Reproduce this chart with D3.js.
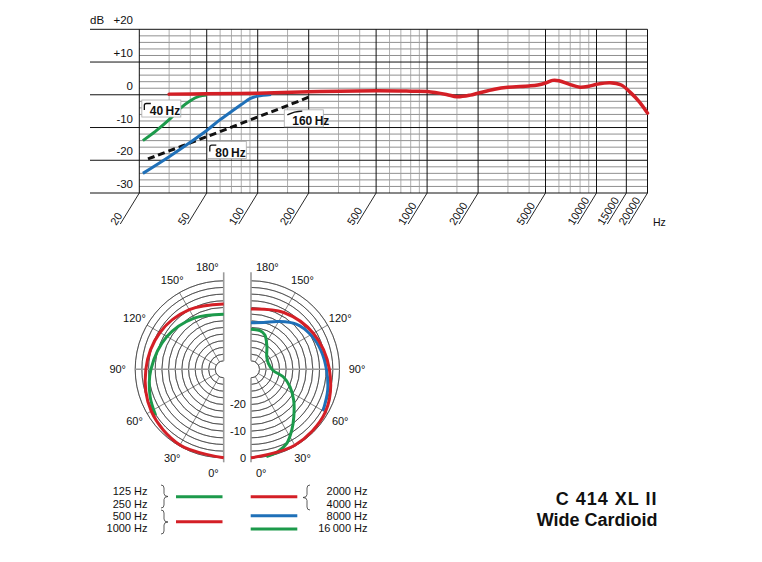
<!DOCTYPE html>
<html>
<head>
<meta charset="utf-8">
<script src="https://cdn.jsdelivr.net/npm/d3@7"></script>
<style>
  body { margin: 0; background: #fff; }
  text { font-family: "Liberation Sans", Arial, Helvetica, sans-serif; fill: #111; }
</style>
</head>
<body>
<script>
// ---- frequency response data ----
var freqTicks = [20, 50, 100, 200, 500, 1000, 2000, 5000, 10000, 15000, 20000];
var freqMinor = [30, 40, 60, 70, 80, 90, 150, 300, 400, 600, 700, 800, 900, 1500, 3000, 4000, 6000, 7000, 8000, 9000];
var dbTicks = [20, 10, 0, -10, -20, -30];
var dbTickLabels = ["+20", "+10", "0", "-10", "-20", "-30"];

// main response (red), [Hz, dB]
var responseMain = [[30, 0.2], [50, 0.3], [100, 0.5], [200, 0.9], [500, 1.2], [800, 1.1], [1000, 1.0],
  [1300, 0.1], [1500, -0.6], [1800, -0.1], [2000, 0.5], [2500, 1.7], [3000, 2.3], [4000, 2.7],
  [4500, 3.0], [5000, 3.6], [5500, 4.4], [6000, 4.3], [7000, 3.1], [8000, 2.3], [9000, 2.6],
  [10000, 3.2], [12000, 3.7], [14000, 3.0], [16000, 0.5], [18000, -2.3], [20000, -5.6]];
// bass cut filters
var cut40 = [[21, -14], [25, -11.1], [30, -7.6], [35, -4.1], [40, -1.8], [45, -0.5], [50, -0.1]];
var cut80 = [[21, -24], [30, -18.9], [40, -14.5], [50, -10.9], [60, -7.6], [70, -5.1], [80, -3.0], [90, -1.2], [100, -0.4], [120, 0.1]];
var cut160 = [[22.5, -19.6], [50, -12.8], [100, -6.8], [150, -3.3], [205, -0.5]];
var cutLabels = ["40\u2009Hz", "80\u2009Hz", "160\u2009Hz"];
var cutLabelAt = [[20.7, -1.6], [50.4, -14.3], [143.5, -4.6]];

// ---- polar data, [angle deg, dB] ----
var polarAngles = [0, 30, 60, 90, 120, 150, 180];
var polarRings = d3.range(-30, 0.1, 2.5);
var polarDbLabels = [0, -10, -20];
var left500 = [[0, 0], [30, -0.4], [60, -1.8], [90, -4], [120, -5.6], [150, -7.4], [180, -8.7]];
var left125 = [[56, -2.4], [70, -3.8], [90, -5.9], [120, -8.6], [150, -11], [180, -12.5]];
var right2000 = [[0, 0], [30, -0.3], [60, -1.0], [90, -3.8], [120, -6.2], [150, -8.6], [180, -10.6]];
var right8000 = [[60, -2], [75, -3.4], [90, -4.9], [105, -6], [120, -7.3], [135, -9.2], [150, -12.5], [165, -15], [180, -15.7]];
var right16000 = [[10, 0], [18, -0.7], [26, -2.4], [34, -5.8], [42, -9.2], [54, -13.4], [66, -17.2], [77, -20.8],
  [87, -24.9], [109, -26.3], [129, -25.6], [145, -22.8], [158, -19.3], [167, -18.3], [180, -18.2]];

var legendLeft = [["125 Hz", "250 Hz"], ["500 Hz", "1000 Hz"]];
var legendRight = ["2000 Hz", "4000 Hz", "8000 Hz", "16\u2009000 Hz"];

var RED = "#d41f26", GREEN = "#1c9a4b", BLUE = "#1f70b8";

var svg = d3.select("body").append("svg")
  .attr("width", 762).attr("height", 562);

// ================= frequency response =================
var x = d3.scaleLog().domain([20, 20000]).range([139.3, 647.5]);
var y = d3.scaleLinear().domain([-30, 20]).range([193, 29.3]);
var fr = svg.append("g");

// minor horizontal grid every 2 dB
fr.selectAll(".hminor").data(d3.range(-30, 20, 2).filter(function(d) { return d % 10 !== 0; }))
  .enter().append("line")
  .attr("x1", x(20)).attr("x2", x(20000))
  .attr("y1", function(d) { return y(d); }).attr("y2", function(d) { return y(d); })
  .attr("stroke", "#444").attr("stroke-width", 0.6);

fr.selectAll(".vminor").data(freqMinor).enter().append("line")
  .attr("x1", function(d) { return x(d); }).attr("x2", function(d) { return x(d); })
  .attr("y1", y(20)).attr("y2", y(-30))
  .attr("stroke", "#9a9a9a").attr("stroke-width", 0.8);

fr.selectAll(".hmajor").data(dbTicks).enter().append("line")
  .attr("x1", 90).attr("x2", x(20000))
  .attr("y1", function(d) { return y(d); }).attr("y2", function(d) { return y(d); })
  .attr("stroke", "#111").attr("stroke-width", 1);

fr.selectAll(".vmajor").data(freqTicks).enter().append("line")
  .attr("x1", function(d) { return x(d); }).attr("x2", function(d) { return x(d); })
  .attr("y1", y(20)).attr("y2", y(-30))
  .attr("stroke", "#111").attr("stroke-width", 1);

// slanted ticks + labels
fr.selectAll(".slash").data(freqTicks).enter().append("line")
  .attr("x1", function(d) { return x(d); }).attr("y1", y(-30))
  .attr("x2", function(d) { return x(d) - 19; }).attr("y2", y(-30) + 31)
  .attr("stroke", "#111").attr("stroke-width", 0.9);

fr.selectAll(".flabel").data(freqTicks).enter().append("text")
  .attr("transform", function(d) { return "translate(" + (x(d) - 23) + "," + (y(-30) + 33) + ") rotate(-58)"; })
  .attr("font-size", 11)
  .text(function(d) { return d; });

fr.append("text").attr("x", 653).attr("y", 226).attr("font-size", 10.5).text("Hz");

// dB labels
fr.selectAll(".dblabel").data(dbTicks).enter().append("text")
  .attr("x", 133).attr("y", function(d) { return y(d) - 5; })
  .attr("text-anchor", "end").attr("font-size", 11.5)
  .text(function(d, i) { return dbTickLabels[i]; });
fr.append("text").attr("x", 90).attr("y", y(20) - 5).attr("font-size", 11.5).text("dB");

var line = d3.line()
  .x(function(d) { return x(d[0]); })
  .y(function(d) { return y(d[1]); })
  .curve(d3.curveCatmullRom);

fr.append("path").datum(cut160).attr("d", line)
  .attr("fill", "none").attr("stroke", "#111").attr("stroke-width", 3)
  .attr("stroke-dasharray", "7,4");
fr.append("path").datum(cut40).attr("d", line)
  .attr("fill", "none").attr("stroke", GREEN).attr("stroke-width", 3);
fr.append("path").datum(cut80).attr("d", line)
  .attr("fill", "none").attr("stroke", BLUE).attr("stroke-width", 3);
fr.append("path").datum(responseMain).attr("d", line)
  .attr("fill", "none").attr("stroke", RED).attr("stroke-width", 3.5)
  .attr("stroke-linecap", "round");

// filter labels
var boxes = fr.selectAll(".cutbox").data(cutLabels).enter().append("g")
  .attr("transform", function(d, i) { return "translate(" + x(cutLabelAt[i][0]) + "," + y(cutLabelAt[i][1]) + ")"; });
boxes.append("rect")
  .attr("width", function(d) { return d.length > 6 ? 40 : 39; }).attr("height", 17)
  .attr("fill", "#fff").attr("stroke", "#aaa").attr("stroke-width", 0.8);
boxes.append("text")
  .attr("x", function(d) { return d.length > 6 ? 3 : 8; }).attr("y", 15)
  .attr("font-size", 12).attr("font-weight", "bold")
  .text(function(d) { return d; });
boxes.append("path")
  .attr("d", function(d, i) {
    return i < 2 ? "M2.5,10 L2.5,5.5 Q2.5,3.5 4.5,3.5 L9,3.5" : "M3,5 Q10,1.5 18,1.2";
  })
  .attr("fill", "none").attr("stroke", "#111").attr("stroke-width", 1.3);

// ================= polar diagram =================
var cy = 369.3;
var halves = [{ cx: 223.7, side: -1 }, { cx: 251, side: 1 }];
var r = d3.scaleLinear().domain([-30, 0]).range([8.5, 88.5]);

function ang(a, side) {
  // 0 deg at bottom, 180 at top
  var t = a * Math.PI / 180;
  return side > 0 ? Math.PI - t : Math.PI + t;
}

halves.forEach(function(h) {
  var g = svg.append("g").attr("transform", "translate(" + h.cx + "," + cy + ")");
  var start = h.side > 0 ? 0 : Math.PI, end = h.side > 0 ? Math.PI : 2 * Math.PI;
  var arc = d3.arc().startAngle(start).endAngle(end);
  g.selectAll(".ring").data(polarRings).enter().append("path")
    .attr("d", function(d) { return arc.innerRadius(r(d)).outerRadius(r(d))(); })
    .attr("fill", "none").attr("stroke", "#333").attr("stroke-width", 0.6);
  g.selectAll(".spoke").data(polarAngles.filter(function(a) { return a > 0 && a < 180; }))
    .enter().append("line")
    .attr("x1", function(a) { return h.side * r(-30) * Math.sin(a * Math.PI / 180); })
    .attr("y1", function(a) { return r(-30) * Math.cos(a * Math.PI / 180); })
    .attr("x2", function(a) { return h.side * r(0) * Math.sin(a * Math.PI / 180); })
    .attr("y2", function(a) { return r(0) * Math.cos(a * Math.PI / 180); })
    .attr("stroke", function(a) { return a === 90 ? "#9a9a9a" : "#333"; })
    .attr("stroke-width", function(a) { return a === 90 ? 1.6 : 0.6; });
  // vertical axis, broken at the centre
  g.append("line").attr("x1", 0).attr("x2", 0).attr("y1", -97).attr("y2", -r(-30))
    .attr("stroke", "#9a9a9a").attr("stroke-width", 1.6);
  g.append("line").attr("x1", 0).attr("x2", 0).attr("y1", r(-30)).attr("y2", 93)
    .attr("stroke", "#9a9a9a").attr("stroke-width", 1.6);
  // angle labels
  g.selectAll(".alabel").data(polarAngles).enter().append("text")
    .attr("font-size", 11)
    .attr("text-anchor", function(a) {
      if (a === 0 || a === 180) return h.side > 0 ? "start" : "end";
      return "middle";
    })
    .attr("x", function(a) {
      if (a === 180) return h.side * 5;
      if (a === 0) return h.side * 5;
      var rr = a === 90 ? 106 : 103;
      return h.side * rr * Math.sin(a * Math.PI / 180);
    })
    .attr("y", function(a) {
      if (a === 180) return -98;
      if (a === 0) return 108;
      var rr = a === 90 ? 106 : 103;
      return rr * Math.cos(a * Math.PI / 180) + 4;
    })
    .text(function(a) { return a + "\u00b0"; });
});

// radial dB labels between the halves
svg.selectAll(".rlabel").data(polarDbLabels).enter().append("text")
  .attr("x", 246).attr("y", function(d) { return cy + r(d) + 4; })
  .attr("text-anchor", "end").attr("font-size", 11)
  .text(function(d) { return d; });

function polarCurve(data, h, color) {
  var lr = d3.lineRadial()
    .angle(function(d) { return ang(d[0], h.side); })
    .radius(function(d) { return r(d[1]); })
    .curve(d3.curveCatmullRom);
  svg.append("path").datum(data)
    .attr("transform", "translate(" + h.cx + "," + cy + ")")
    .attr("d", lr)
    .attr("fill", "none").attr("stroke", color).attr("stroke-width", 3);
}
polarCurve(left125, halves[0], GREEN);
polarCurve(left500, halves[0], RED);
polarCurve(right16000, halves[1], GREEN);
polarCurve(right8000, halves[1], BLUE);
polarCurve(right2000, halves[1], RED);

// ================= legend =================
var lg = svg.append("g");
var rowY = [495, 507.5, 519.5, 532];
lg.selectAll(".ll").data(d3.merge(legendLeft)).enter().append("text")
  .attr("x", 147.5).attr("y", function(d, i) { return rowY[i]; })
  .attr("text-anchor", "end").attr("font-size", 11).text(function(d) { return d; });
lg.selectAll(".lr").data(legendRight).enter().append("text")
  .attr("x", 367.5).attr("y", function(d, i) { return rowY[i]; })
  .attr("text-anchor", "end").attr("font-size", 11).text(function(d) { return d; });

function brace(x0, y0, y1, dir) {
  var m = (y0 + y1) / 2, s = 3 * dir, t = 7 * dir;
  return "M" + x0 + "," + y0 + " Q" + (x0 + s) + "," + y0 + " " + (x0 + s) + "," + (y0 + 3) +
    " L" + (x0 + s) + "," + (m - 3) + " Q" + (x0 + s) + "," + m + " " + (x0 + t) + "," + m +
    " Q" + (x0 + s) + "," + m + " " + (x0 + s) + "," + (m + 3) +
    " L" + (x0 + s) + "," + (y1 - 3) + " Q" + (x0 + s) + "," + y1 + " " + x0 + "," + y1;
}
[[485, 508], [510, 534]].forEach(function(b) {
  lg.append("path").attr("d", brace(161, b[0], b[1], 1))
    .attr("fill", "none").attr("stroke", "#333").attr("stroke-width", 0.8);
});
lg.append("path").attr("d", brace(310, 485, 510, -1))
  .attr("fill", "none").attr("stroke", "#333").attr("stroke-width", 0.8);

var legendLines = [
  { x1: 176, x2: 222.5, y: 496.7, c: GREEN }, { x1: 176, x2: 222.5, y: 521.7, c: RED },
  { x1: 250.7, x2: 297.3, y: 496.7, c: RED }, { x1: 250.7, x2: 297.3, y: 515.7, c: BLUE },
  { x1: 250.7, x2: 297.3, y: 529, c: GREEN }
];
lg.selectAll(".lline").data(legendLines).enter().append("line")
  .attr("x1", function(d) { return d.x1; }).attr("x2", function(d) { return d.x2; })
  .attr("y1", function(d) { return d.y; }).attr("y2", function(d) { return d.y; })
  .attr("stroke", function(d) { return d.c; }).attr("stroke-width", 3);

// title
svg.append("text").attr("x", 657.5).attr("y", 505).attr("text-anchor", "end")
  .attr("font-size", 18).attr("font-weight", "bold").attr("letter-spacing", 1)
  .text("C 414 XL II");
svg.append("text").attr("x", 657.5).attr("y", 526).attr("text-anchor", "end")
  .attr("font-size", 18).attr("font-weight", "bold")
  .text("Wide Cardioid");
</script>
</body>
</html>
